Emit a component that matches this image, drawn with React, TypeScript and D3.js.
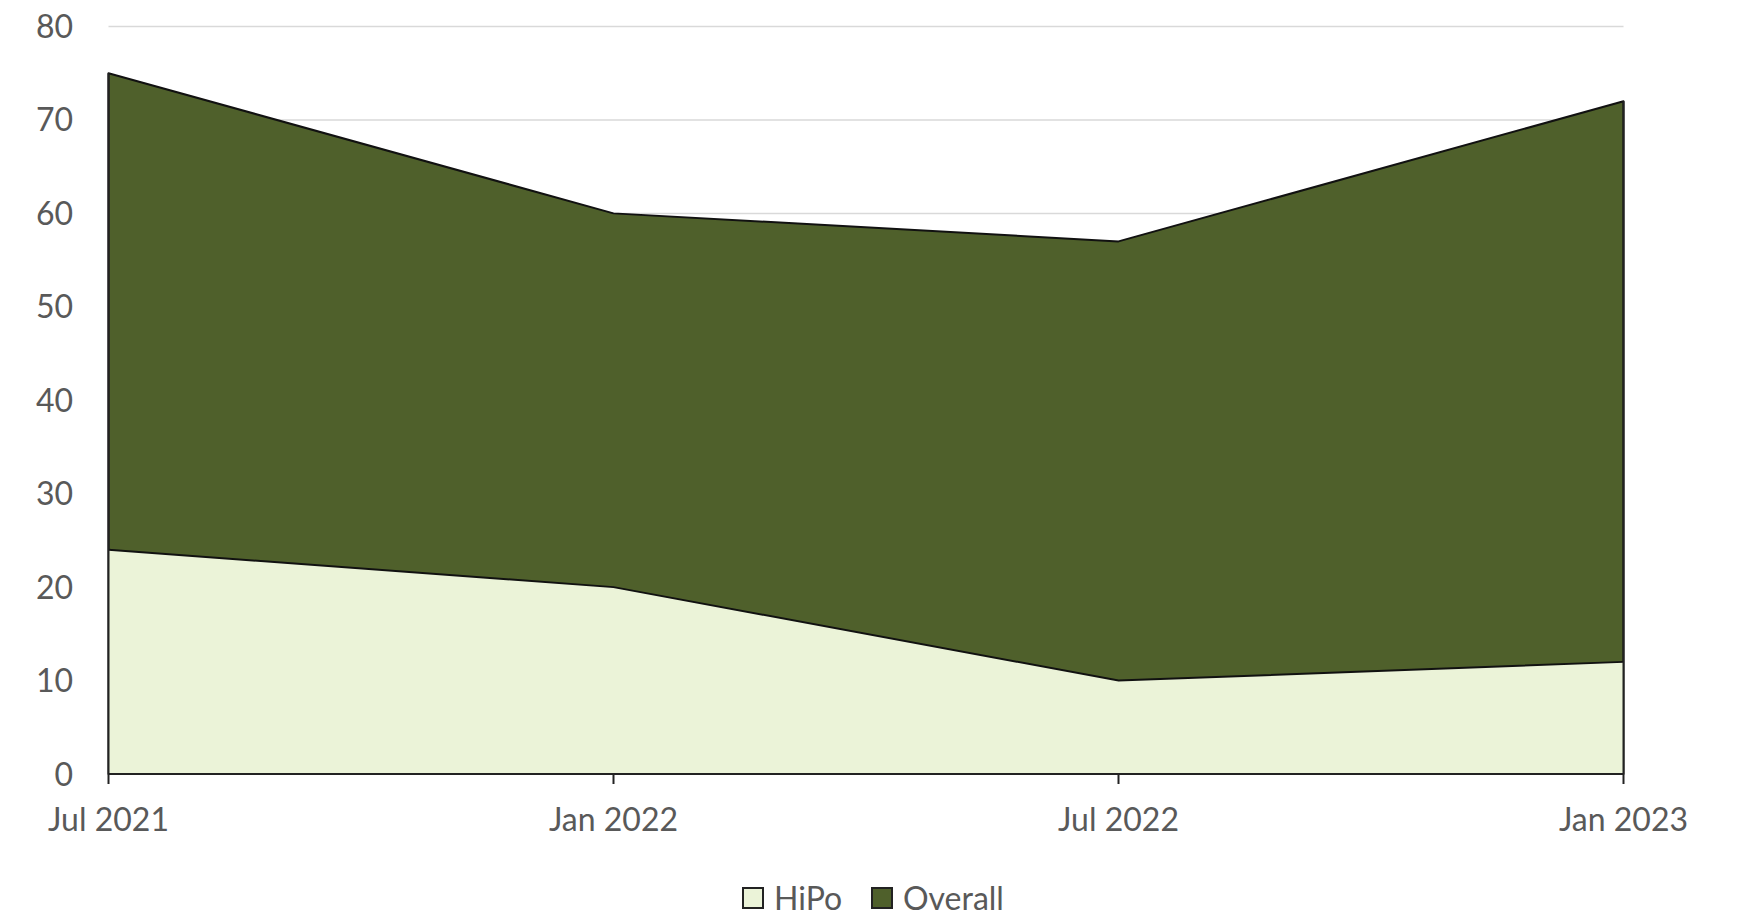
import React from "react";
import * as d3 from "d3";

const categories = ["Jul 2021", "Jan 2022", "Jul 2022", "Jan 2023"];
const hipo = [24, 20, 10, 12];
const overall = [75, 60, 57, 72];
const yTicks = [0, 10, 20, 30, 40, 50, 60, 70, 80];

const W = 1737;
const H = 917;
const margin = { left: 108.5, right: 113.5, top: 26.5, bottom: 143 };

const DARK = "#4f602b";
const LIGHT = "#ebf3d8";
const TEXT = "#595959";
const FONT = "Lato, 'Open Sans', sans-serif";

export default function App() {
  const x = d3
    .scalePoint<string>()
    .domain(categories)
    .range([margin.left, W - margin.right]);
  const y = d3
    .scaleLinear()
    .domain([0, 80])
    .range([H - margin.bottom, margin.top]);

  const area = d3
    .area<number>()
    .x((_, i) => x(categories[i]) as number)
    .y0(y(0))
    .y1((d) => y(d));

  const line = d3
    .line<number>()
    .x((_, i) => x(categories[i]) as number)
    .y((d) => y(d));

  const x0 = x(categories[0]) as number;
  const x1 = x(categories[categories.length - 1]) as number;

  const legend = [
    { label: "HiPo", color: LIGHT, x: 743 },
    { label: "Overall", color: DARK, x: 872 },
  ];

  return (
    <svg
      width={W}
      height={H}
      style={{ position: "absolute", left: 0, top: 0, background: "#fff" }}
    >
      {/* horizontal gridlines */}
      {yTicks.map((t) => (
        <line
          key={t}
          x1={x0}
          x2={x1}
          y1={y(t)}
          y2={y(t)}
          stroke="#d9d9d9"
          strokeWidth={1.5}
        />
      ))}

      {/* Overall area (back) */}
      <path
        d={area(overall) as string}
        fill={DARK}
        stroke="#111"
        strokeWidth={2}
        strokeLinejoin="round"
      />
      {/* HiPo area (front) */}
      <path d={area(hipo) as string} fill={LIGHT} stroke="none" />
      <path
        d={line(hipo) as string}
        fill="none"
        stroke="#111"
        strokeWidth={2}
      />
      <line x1={x0} x2={x0} y1={y(overall[0])} y2={y(0)} stroke="#222" strokeWidth={2} />
      <line x1={x1} x2={x1} y1={y(overall[overall.length - 1])} y2={y(0)} stroke="#222" strokeWidth={2} />

      {/* x axis */}
      <line x1={x0} x2={x1} y1={y(0)} y2={y(0)} stroke="#222" strokeWidth={2} />
      {categories.map((c) => (
        <g key={c}>
          <line
            x1={x(c)}
            x2={x(c)}
            y1={y(0)}
            y2={y(0) + 10}
            stroke="#222"
            strokeWidth={2}
          />
          <text
            x={x(c)}
            y={y(0) + 57}
            textAnchor="middle"
            fontFamily={FONT}
            fontSize={32}
            fill={TEXT}
          >
            {c}
          </text>
        </g>
      ))}

      {/* y axis labels */}
      {yTicks.map((t) => (
        <text
          key={t}
          x={73}
          y={y(t)}
          dy="0.36em"
          textAnchor="end"
          fontFamily={FONT}
          fontSize={32}
          fill={TEXT}
        >
          {t}
        </text>
      ))}

      {/* legend */}
      {legend.map((l) => (
        <g key={l.label}>
          <rect
            x={l.x}
            y={888}
            width={20}
            height={20}
            fill={l.color}
            stroke="#222"
            strokeWidth={2}
          />
          <text
            x={l.x + 31}
            y={898}
            dy="0.36em"
            fontFamily={FONT}
            fontSize={32}
            fill={TEXT}
          >
            {l.label}
          </text>
        </g>
      ))}
    </svg>
  );
}
